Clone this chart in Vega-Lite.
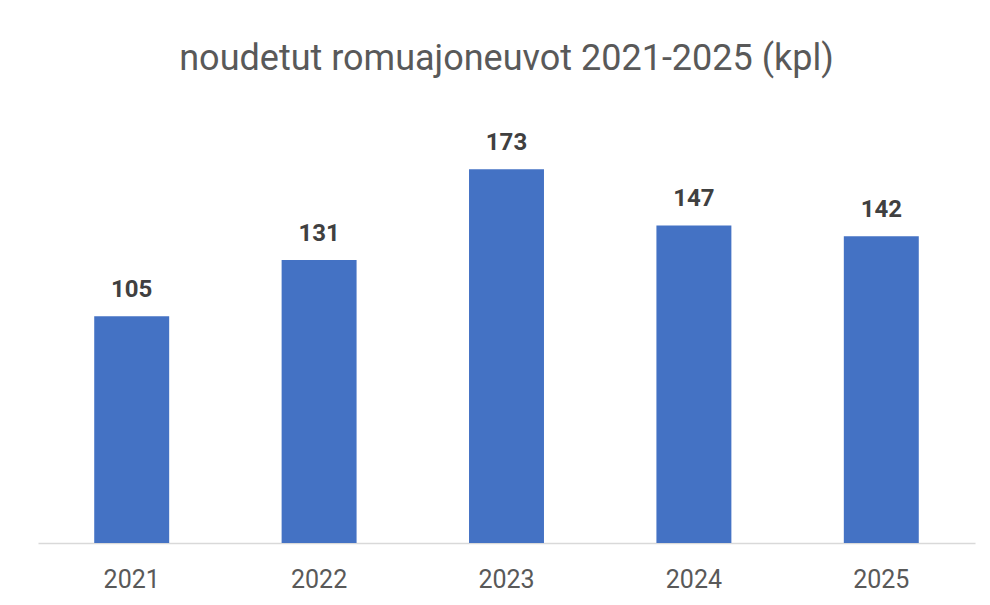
{
  "$schema": "https://vega.github.io/schema/vega-lite/v6.json",
  "width": 937,
  "height": 432,
  "autosize": {"type": "none"},
  "padding": {"left": 38, "top": 111, "right": 15, "bottom": 62},
  "background": "white",
  "title": {
    "text": "noudetut romuajoneuvot 2021-2025 (kpl)",
    "font": "Roboto",
    "fontSize": 36,
    "fontWeight": "normal",
    "color": "#595959",
    "anchor": "middle",
    "baseline": "alphabetic",
    "offset": 5
  },
  "data": {
    "values": [
      {"year": "2021", "count": 105},
      {"year": "2022", "count": 131},
      {"year": "2023", "count": 173},
      {"year": "2024", "count": 147},
      {"year": "2025", "count": 142}
    ]
  },
  "encoding": {
    "x": {
      "field": "year",
      "type": "ordinal",
      "scale": {"paddingInner": 0.6, "paddingOuter": 0.3},
      "axis": {
        "title": null,
        "labelAngle": 0,
        "labelFont": "Roboto",
        "labelFontSize": 25,
        "labelColor": "#595959",
        "labelPadding": 24,
        "ticks": false,
        "domainColor": "#D9D9D9",
        "domainWidth": 1.5
      }
    },
    "y": {
      "field": "count",
      "type": "quantitative",
      "scale": {"domain": [0, 200]},
      "axis": null
    }
  },
  "layer": [
    {"mark": {"type": "bar", "color": "#4472C4"}},
    {
      "mark": {
        "type": "text",
        "baseline": "alphabetic",
        "dy": -19,
        "font": "Roboto",
        "fontSize": 24,
        "fontWeight": "bold",
        "color": "#404040"
      },
      "encoding": {"text": {"field": "count", "type": "quantitative"}}
    }
  ],
  "config": {"view": {"stroke": null}}
}
